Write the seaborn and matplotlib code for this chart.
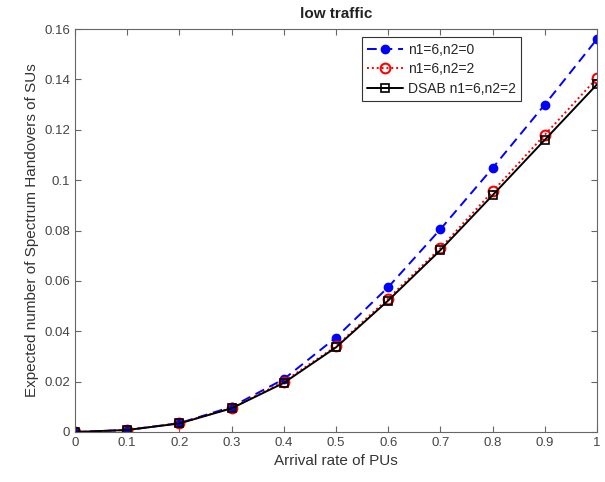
import matplotlib
matplotlib.use("Agg")
import matplotlib.pyplot as plt
import seaborn as sns
import pandas as pd

sns.set_theme(style="white")
plt.rcParams['font.family'] = ['Liberation Sans', 'DejaVu Sans']

arrival_rate = [0, 0.1, 0.2, 0.3, 0.4, 0.5, 0.6, 0.7, 0.8, 0.9, 1.0]
n1_6_n2_0 = [0, 0.0008, 0.0035, 0.0100, 0.0210, 0.0375, 0.0575, 0.0805, 0.1048, 0.1300, 0.1560]
n1_6_n2_2 = [0, 0.0008, 0.0035, 0.0095, 0.0200, 0.0340, 0.0530, 0.0730, 0.0955, 0.1180, 0.1405]
dsab_n1_6_n2_2 = [0, 0.0008, 0.0034, 0.0094, 0.0195, 0.0336, 0.0522, 0.0722, 0.0940, 0.1160, 0.1380]
labels = ["n1=6,n2=0", "n1=6,n2=2", "DSAB n1=6,n2=2"]

df = pd.DataFrame({
    "x": arrival_rate * 3,
    "y": n1_6_n2_0 + n1_6_n2_2 + dsab_n1_6_n2_2,
    "series": [labels[0]] * 11 + [labels[1]] * 11 + [labels[2]] * 11,
})

fig = plt.figure(figsize=(6.05, 4.82), dpi=100)
ax = fig.add_axes([75 / 605, 50 / 482, 522 / 605, 403 / 482])

styles = {
    labels[0]: dict(color="#0000ff", ls=(0, (5, 3)), marker="o", ms=6, mfc="#0000ff", mec="#0000ff"),
    labels[1]: dict(color="#ff0000", ls=(0, (1, 1.5)), marker="o", ms=7, mfc="none", mec="#ff0000", mew=1.5),
    labels[2]: dict(color="#000000", ls="-", marker="s", ms=6, mfc="none", mec="#000000", mew=1.2),
}

for name in labels:
    sub = df[df["series"] == name]
    st = styles[name]
    sns.lineplot(data=sub, x="x", y="y", ax=ax, color=st["color"], linestyle=st["ls"],
                 linewidth=1.4, marker=st["marker"], markersize=st["ms"],
                 markerfacecolor=st["mfc"], markeredgecolor=st["mec"],
                 markeredgewidth=st.get("mew", 1), label=name)

ax.set_xlim(0, 1)
ax.set_ylim(0, 0.16)
ax.set_xticks(arrival_rate)
ax.set_xticklabels(["0", "0.1", "0.2", "0.3", "0.4", "0.5", "0.6", "0.7", "0.8", "0.9", "1"])
yt = [0, 0.02, 0.04, 0.06, 0.08, 0.1, 0.12, 0.14, 0.16]
ax.set_yticks(yt)
ax.set_yticklabels(["0", "0.02", "0.04", "0.06", "0.08", "0.1", "0.12", "0.14", "0.16"])

for sp in ax.spines.values():
    sp.set_color("#666666")
    sp.set_linewidth(0.8)
ax.tick_params(direction="in", length=4, width=0.8, color="#666666",
               labelsize=9.5, labelcolor="#444444", top=True, right=True,
               bottom=True, left=True)

ax.set_xlabel("Arrival rate of PUs", fontsize=11, color="#333333")
ax.set_ylabel("Expected number of Spectrum Handovers of SUs", fontsize=11, color="#333333")
ax.set_title("low traffic", fontsize=11, fontweight="bold", color="#222222", pad=8)

leg = ax.legend(loc="upper right", bbox_to_anchor=(0.868, 0.997), fontsize=10,
                frameon=True, fancybox=False, edgecolor="#333333", framealpha=1,
                borderpad=0.4, handlelength=2.6, handletextpad=0.3, labelspacing=0.4)
leg.get_frame().set_linewidth(0.8)

fig.savefig("out.png", dpi=100)
